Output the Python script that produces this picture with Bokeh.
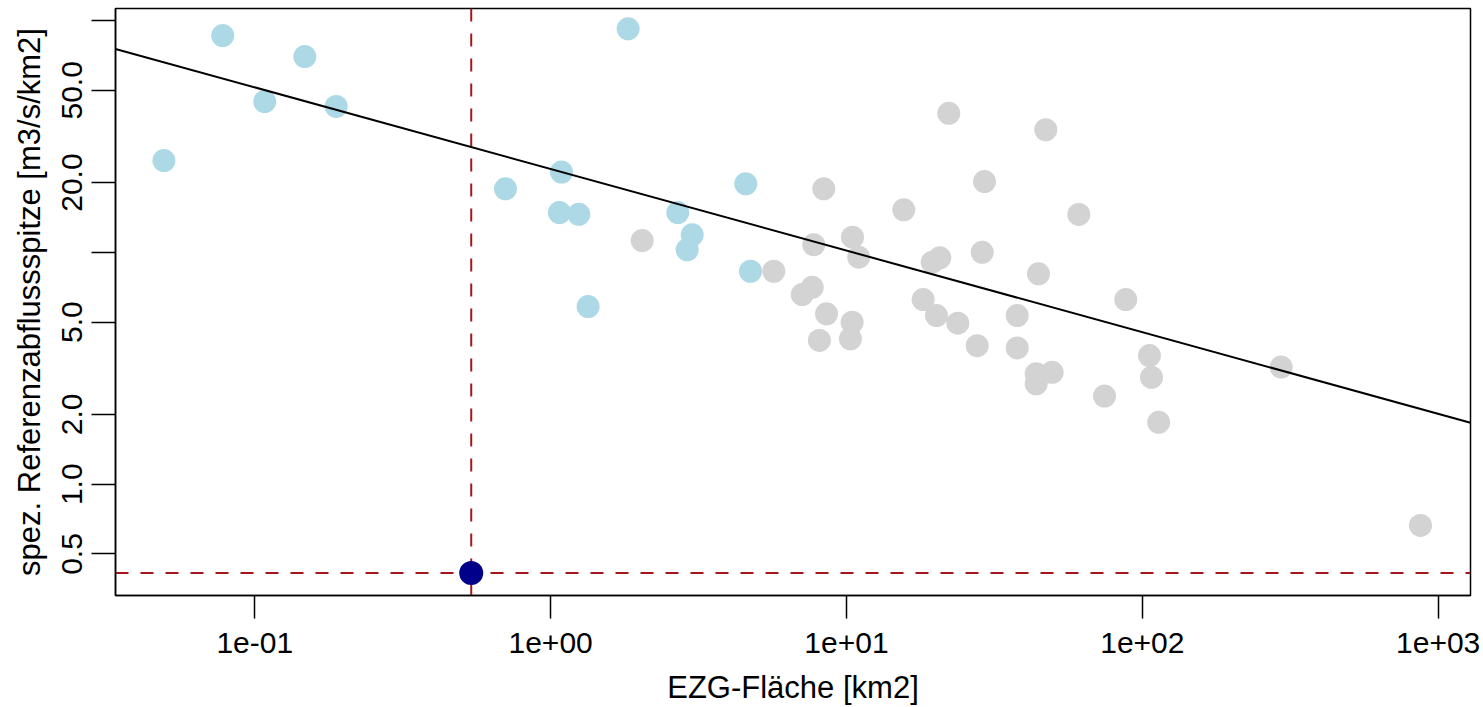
from bokeh.plotting import figure
from bokeh.models import Range1d, FixedTicker, Span
from bokeh.embed import file_html
from bokeh.resources import INLINE

# ---- data ----
lb_area = [0.0493, 0.0779, 0.108, 0.1476, 0.1884, 0.7037, 1.088, 1.071, 1.245, 1.828,
           1.339, 2.69, 3.01, 2.894, 4.566, 4.737]
lb_q = [24.9, 86.1, 44.7, 69.9, 42.6, 18.8, 22.2, 14.85, 14.6, 92.1,
        5.84, 14.85, 11.9, 10.26, 19.76, 8.29]

gray_area = [2.039, 5.678, 8.38, 7.75, 7.085, 7.66, 8.56, 8.10, 10.48, 11.0, 10.45, 10.31,
             15.62, 22.17, 19.49, 20.67, 18.16, 20.15, 23.78, 29.28, 28.76, 27.66,
             47.17, 44.57, 37.76, 37.76, 60.98, 43.78, 43.78, 49.57, 74.5, 87.9,
             105.7, 107.4, 113.6, 294.6, 871.3]
gray_q = [11.25, 8.29, 18.8, 10.78, 6.58, 7.07, 5.43, 4.17, 11.63, 9.53, 4.996, 4.24,
          15.26, 39.8, 9.07, 9.47, 6.26, 5.34, 4.95, 20.2, 10.01, 3.96,
          33.8, 8.08, 5.34, 3.87, 14.57, 2.995, 2.71, 3.04, 2.40, 6.26,
          3.59, 2.89, 1.85, 3.20, 0.664]

target_area = [0.539]
target_q = [0.414]

# power-law fit q = a * area^b
fit_a = 22.9
fit_b = -0.352

x_ticks = [0.1, 1, 10, 100, 1000]
x_tick_labels = ["1e-01", "1e+00", "1e+01", "1e+02", "1e+03"]
y_ticks = [0.5, 1, 2, 5, 10, 20, 50, 100]
y_tick_labels = ["0.5", "1.0", "2.0", "5.0", "", "20.0", "50.0", ""]

x_lo, x_hi = 0.03382, 1286.0
y_lo, y_hi = 0.3311, 112.7

FONT = "Liberation Sans"
FS_TICK = "30px"
FS_TITLE = "31px"

p = figure(x_axis_type="log", y_axis_type="log",
           x_range=Range1d(x_lo, x_hi), y_range=Range1d(y_lo, y_hi),
           frame_width=1355, frame_height=587,
           min_border_left=115, min_border_right=10, min_border_top=8, min_border_bottom=0,
           output_backend="svg", toolbar_location=None)

p.xgrid.visible = False
p.ygrid.visible = False
p.outline_line_color = "black"
p.outline_line_width = 1.5
p.background_fill_color = "white"
p.border_fill_color = "white"

for ax in (p.xaxis[0], p.yaxis[0]):
    ax.axis_line_color = "black"
    ax.axis_line_width = 1.5
    ax.major_tick_line_color = "black"
    ax.major_tick_line_width = 1.5
    ax.major_tick_in = 0
    ax.minor_tick_line_color = None
    ax.major_label_text_font = FONT
    ax.major_label_text_font_size = FS_TICK
    ax.major_label_text_color = "black"
    ax.axis_label_text_font = FONT
    ax.axis_label_text_font_size = FS_TITLE
    ax.axis_label_text_font_style = "normal"
    ax.axis_label_text_color = "black"

xa = p.xaxis[0]
xa.ticker = FixedTicker(ticks=x_ticks)
xa.major_label_overrides = {t: l for t, l in zip(x_ticks, x_tick_labels)}
xa.major_tick_out = 23
xa.major_label_standoff = 14
xa.axis_label = "EZG-Fläche [km2]"
xa.axis_label_standoff = 14

ya = p.yaxis[0]
ya.ticker = FixedTicker(ticks=y_ticks)
ya.major_label_overrides = {t: l for t, l in zip(y_ticks, y_tick_labels)}
ya.major_tick_out = 24
ya.major_label_standoff = 9
ya.major_label_orientation = "vertical"
ya.axis_label = "spez. Referenzabflussspitze [m3/s/km2]"
ya.axis_label_standoff = 13

# dashed reference lines (below the marks)
p.add_layout(Span(location=target_area[0], dimension="height", line_color="#A3171C",
                  line_dash="13 12", line_width=2, level="underlay"))
p.add_layout(Span(location=target_q[0], dimension="width", line_color="#A3171C",
                  line_dash="13 12", line_width=2, level="underlay"))

# points
p.scatter(gray_area, gray_q, size=23, color="#D3D3D3", line_color=None)
p.scatter(lb_area, lb_q, size=23, color="#ADD8E6", line_color=None)

# regression line
fx = [x_lo, x_hi]
fy = [fit_a * v ** fit_b for v in fx]
p.line(fx, fy, line_color="black", line_width=2)

p.scatter(target_area, target_q, size=24, color="#00008B", line_color=None)

open("out.html", "w").write(file_html(p, INLINE))
